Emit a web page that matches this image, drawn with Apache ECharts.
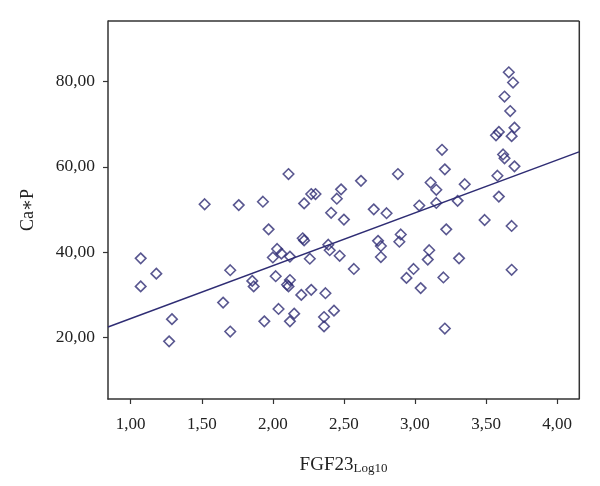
<!DOCTYPE html>
<html>
<head>
<meta charset="utf-8">
<script src="https://cdn.jsdelivr.net/npm/echarts@6/dist/echarts.min.js"></script>
<style>
html,body{margin:0;padding:0;background:#fff;}
#c{width:600px;height:486px;}
</style>
</head>
<body>
<div id="c"></div>
<script>
// Data
var fgf23 = [1.07,1.18,1.07,1.29,1.27,1.52,1.70,1.65,1.70,1.76,1.855,1.865,1.93,1.94,1.97,2.00,2.03,2.06,2.02,2.04,
  2.11,2.12,2.12,2.10,2.11,2.15,2.12,2.20,2.22,2.21,2.22,2.27,2.30,2.26,2.27,2.37,2.36,2.36,2.39,2.40,
  2.41,2.43,2.45,2.48,2.50,2.47,2.57,2.62,2.71,2.74,2.76,2.76,2.80,2.88,2.90,2.89,2.94,2.99,3.04,3.03,
  3.10,3.09,3.11,3.15,3.15,3.19,3.21,3.22,3.20,3.21,3.30,3.31,3.35,3.49,3.58,3.59,3.59,3.57,3.62,3.63,
  3.70,3.66,3.69,3.63,3.67,3.70,3.68,3.68,3.68];
var caP = [38.5,34.9,31.9,24.2,19.0,51.2,35.7,28.1,21.3,51.0,33.2,31.9,51.8,23.7,45.3,38.7,40.7,39.6,34.3,26.6,
  58.3,38.9,33.4,32.3,31.9,25.5,23.7,29.9,51.4,43.2,42.7,53.6,53.6,38.4,31.1,30.3,24.7,22.5,41.7,40.4,
  49.2,26.2,52.5,54.7,47.6,39.1,36.0,56.7,50.0,42.6,41.4,38.8,49.1,58.3,44.1,42.4,33.9,36.0,31.5,50.9,
  40.4,38.2,56.3,54.6,51.5,64.0,59.4,45.3,34.0,22.0,52.0,38.5,55.9,47.5,57.9,53.0,68.2,67.4,62.9,62.0,
  60.1,82.2,79.8,76.5,73.1,69.2,67.2,46.1,35.8];
var fitX = [0.84, 4.154];
var fitY = [22.35, 63.5];
var xTicks = [1.0, 1.5, 2.0, 2.5, 3.0, 3.5, 4.0];
var yTicks = [20, 40, 60, 80];

var points = fgf23.map(function(x, i){ return [x, caP[i]]; });
var fit = fitX.map(function(x, i){ return [x, fitY[i]]; });

var navy = '#2f2d74';
var txt = '#222';
var serif = '"Liberation Serif","DejaVu Serif",serif';
function comma(v){ return v.toFixed(2).replace('.', ','); }

var chart = echarts.init(document.getElementById('c'), null, {renderer:'canvas'});
chart.setOption({
  animation: false,
  backgroundColor: '#fff',
  grid: {left: 108, right: 21, top: 21, bottom: 87, show: false},
  xAxis: {
    type: 'value', min: 0.84, max: 4.154,
    splitLine: {show: false},
    axisLine: {show: true, onZero: false, lineStyle: {color: '#333', width: 1.5}},
    axisTick: {show: true, length: 5, customValues: xTicks, lineStyle: {color: '#333', width: 1.2}},
    axisLabel: {customValues: xTicks, formatter: comma, color: txt, fontFamily: serif, fontSize: 17, margin: 17},
    name: '{a|FGF23}{b|Log10}',
    nameLocation: 'middle', nameGap: 46,
    nameTextStyle: {
      rich: {
        a: {fontFamily: serif, fontSize: 19, color: txt, verticalAlign: 'bottom', lineHeight: 30},
        b: {fontFamily: serif, fontSize: 13, color: txt, verticalAlign: 'bottom', lineHeight: 13}
      }
    }
  },
  yAxis: {
    type: 'value', min: 5.45, max: 94.25,
    splitLine: {show: false},
    axisLine: {show: true, onZero: false, lineStyle: {color: '#333', width: 1.5}},
    axisTick: {show: true, length: 5, customValues: yTicks, lineStyle: {color: '#333', width: 1.2}},
    axisLabel: {customValues: yTicks, formatter: comma, color: txt, fontFamily: serif, fontSize: 17.5, margin: 13},
    name: 'Ca\u2217P',
    nameLocation: 'middle', nameGap: 71, nameRotate: 90,
    nameTextStyle: {fontFamily: serif, fontSize: 18, color: txt}
  },
  graphic: [
    {type: 'line', shape: {x1: 108, y1: 21, x2: 579.3, y2: 21}, style: {stroke: '#333', lineWidth: 1.5}, silent: true},
    {type: 'line', shape: {x1: 579.3, y1: 21, x2: 579.3, y2: 399.3}, style: {stroke: '#333', lineWidth: 1.5}, silent: true}
  ],
  series: [
    {
      type: 'line', data: fit, showSymbol: false, symbol: 'none',
      lineStyle: {color: navy, width: 1.5}, z: 1, silent: true
    },
    {
      type: 'scatter', data: points, symbol: 'diamond', symbolSize: 10.5,
      itemStyle: {color: 'rgba(0,0,0,0)', borderColor: navy, borderWidth: 1.6}, z: 2
    }
  ]
});
</script>
</body>
</html>
